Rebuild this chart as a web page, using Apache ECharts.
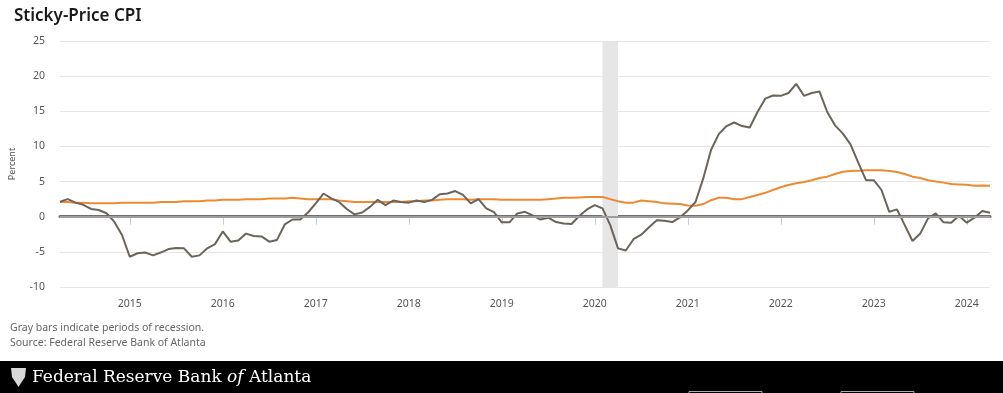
<!DOCTYPE html>
<html><head><meta charset="utf-8">
<script src="https://cdn.jsdelivr.net/npm/echarts@6/dist/echarts.min.js"></script>
<style>html,body{margin:0;padding:0;background:#fff;overflow:hidden}#c{width:1003px;height:393px}</style>
</head><body><div id="c"></div>
<script>
const months = [
 '2014-04','2014-05','2014-06','2014-07','2014-08','2014-09','2014-10','2014-11','2014-12',
 '2015-01','2015-02','2015-03','2015-04','2015-05','2015-06','2015-07','2015-08','2015-09','2015-10','2015-11','2015-12',
 '2016-01','2016-02','2016-03','2016-04','2016-05','2016-06','2016-07','2016-08','2016-09','2016-10','2016-11','2016-12',
 '2017-01','2017-02','2017-03','2017-04','2017-05','2017-06','2017-07','2017-08','2017-09','2017-10','2017-11','2017-12',
 '2018-01','2018-02','2018-03','2018-04','2018-05','2018-06','2018-07','2018-08','2018-09','2018-10','2018-11','2018-12',
 '2019-01','2019-02','2019-03','2019-04','2019-05','2019-06','2019-07','2019-08','2019-09','2019-10','2019-11','2019-12',
 '2020-01','2020-02','2020-03','2020-04','2020-05','2020-06','2020-07','2020-08','2020-09','2020-10','2020-11','2020-12',
 '2021-01','2021-02','2021-03','2021-04','2021-05','2021-06','2021-07','2021-08','2021-09','2021-10','2021-11','2021-12',
 '2022-01','2022-02','2022-03','2022-04','2022-05','2022-06','2022-07','2022-08','2022-09','2022-10','2022-11','2022-12',
 '2023-01','2023-02','2023-03','2023-04','2023-05','2023-06','2023-07','2023-08','2023-09','2023-10','2023-11','2023-12',
 '2024-01','2024-02','2024-03','2024-04'
];
// Sticky-price CPI (orange)
const sticky = [
 2.1,2.1,2.0,2.0,1.9,1.9,1.9,1.9,2.0,
 2.0,2.0,2.0,2.0,2.1,2.1,2.1,2.2,2.2,2.2,2.3,2.3,
 2.4,2.4,2.4,2.5,2.5,2.5,2.6,2.6,2.6,2.7,2.6,2.5,
 2.5,2.5,2.5,2.3,2.2,2.1,2.1,2.1,2.1,2.1,2.1,2.1,
 2.2,2.2,2.3,2.3,2.4,2.5,2.5,2.5,2.4,2.5,2.5,2.5,
 2.4,2.4,2.4,2.4,2.4,2.4,2.5,2.6,2.7,2.7,2.75,2.8,
 2.8,2.8,2.5,2.2,2.0,2.0,2.3,2.2,2.1,1.9,1.85,1.8,
 1.6,1.56,1.8,2.35,2.7,2.7,2.5,2.5,2.8,3.1,3.4,3.8,
 4.2,4.5,4.75,4.95,5.2,5.5,5.7,6.07,6.4,6.5,6.55,6.6,
 6.6,6.6,6.5,6.35,6.07,5.7,5.5,5.2,5.0,4.85,4.65,4.6,
 4.55,4.4,4.45,4.4
];
// Flexible-price CPI (gray)
const flexible = [
 2.13,2.5,2.0,1.7,1.1,0.95,0.5,-0.7,-2.6,
 -5.7,-5.2,-5.1,-5.5,-5.1,-4.6,-4.45,-4.5,-5.7,-5.5,-4.5,-3.9,
 -2.1,-3.55,-3.4,-2.4,-2.75,-2.8,-3.55,-3.3,-1.1,-0.4,-0.4,0.6,
 1.9,3.3,2.6,2.1,1.1,0.33,0.6,1.4,2.4,1.65,2.3,2.1,
 2.0,2.3,2.1,2.4,3.2,3.3,3.65,3.1,1.9,2.5,1.2,0.66,
 -0.8,-0.8,0.47,0.7,0.2,-0.4,-0.14,-0.76,-0.95,-1.04,0.1,1.04,
 1.66,1.18,-1.2,-4.5,-4.8,-3.2,-2.56,-1.5,-0.5,-0.57,-0.76,-0.1,
 0.9,2.1,5.45,9.5,11.75,12.9,13.4,12.9,12.7,14.9,16.8,17.25,
 17.2,17.6,18.9,17.2,17.6,17.8,14.9,13.0,11.85,10.3,7.7,5.2,
 5.2,3.8,0.7,1.04,-1.2,-3.46,-2.4,-0.24,0.47,-0.8,-0.85,0.14,
 -0.85,-0.14,0.8,0.57
];
const recessions = [['2020-02','2020-04']];
const yMin = -10, yMax = 25, yStep = 5;

const chart = echarts.init(document.getElementById('c'), null, {renderer: 'canvas'});
const isJan = (i, v) => String(v).slice(5) === '01';
const sans = 'Noto Sans';
chart.setOption({
  animation: false,
  backgroundColor: '#fff',
  title: {
    text: 'Sticky-Price CPI', left: 9, top: 3,
    textStyle: {fontFamily: sans, fontSize: 17, fontWeight: 600, color: '#1a1a1a'}
  },
  grid: {left: 56, right: 13, top: 41, bottom: 106},
  xAxis: {
    type: 'category', data: months, boundaryGap: false,
    axisLine: {lineStyle: {color: '#6e6e6e', width: 3}},
    axisTick: {interval: isJan, length: 8, lineStyle: {color: '#c3cedb', width: 1}},
    axisLabel: {interval: isJan, formatter: v => v.slice(0, 4), margin: 12,
      fontFamily: sans, fontSize: 10.5, color: '#555'},
    splitLine: {show: false}
  },
  yAxis: {
    type: 'value', min: yMin, max: yMax, interval: yStep,
    name: 'Percent', nameLocation: 'middle', nameRotate: 90, nameGap: 43,
    nameTextStyle: {fontFamily: sans, fontSize: 9, color: '#555'},
    axisLine: {show: false}, axisTick: {show: false},
    axisLabel: {margin: 15, fontFamily: sans, fontSize: 10.5, color: '#555'},
    splitLine: {lineStyle: {color: '#e6e6e6', width: 1}}
  },
  series: [
    {
      name: 'Sticky-Price CPI', type: 'line', data: sticky, symbol: 'none',
      lineStyle: {color: '#ef8a30', width: 2}, itemStyle: {color: '#ef8a30'},
      markArea: {silent: true, itemStyle: {color: '#e6e6e6'},
        data: recessions.map(r => [{xAxis: r[0]}, {xAxis: r[1]}])},
      markLine: {silent: true, symbol: 'none', label: {show: false},
        lineStyle: {color: '#9e9e9e', width: 2, type: 'solid'}, data: [{yAxis: 0}]},
      z: 2
    },
    {
      name: 'Flexible-Price CPI', type: 'line', data: flexible, symbol: 'none',
      lineStyle: {color: '#6a645b', width: 2}, itemStyle: {color: '#6a645b'}, z: 3
    }
  ],
  graphic: [
    {type: 'text', left: 10, top: 323, style: {text: 'Gray bars indicate periods of recession.',
      font: '10.5px "Noto Sans"', fill: '#666'}},
    {type: 'text', left: 10, top: 338, style: {text: 'Source: Federal Reserve Bank of Atlanta',
      font: '10.5px "Noto Sans"', fill: '#666'}},
    {type: 'rect', left: 0, top: 361, shape: {width: 1003, height: 32}, style: {fill: '#000'}},
    {type: 'polygon', shape: {points: [[11,368],[26,368],[25,377],[21,383],[18.5,387],[16,383],[12,377]]},
      style: {fill: '#d8d8d8'}},
    {type: 'text', left: 32, top: 369, style: {
      text: '{a|Federal Reserve Bank }{b|of}{a| Atlanta}',
      rich: {
        a: {fontFamily: 'DejaVu Serif', fontSize: 17, fill: '#fff', color: '#fff'},
        b: {fontFamily: 'DejaVu Serif', fontSize: 17, fontStyle: 'italic', fill: '#fff', color: '#fff'}
      }, fill: '#fff'}},
    {type: 'rect', shape: {x: 689, y: 391.5, width: 73, height: 3}, style: {fill: '#000', stroke: '#aaa', lineWidth: 1}},
    {type: 'rect', shape: {x: 841, y: 391.5, width: 73, height: 3}, style: {fill: '#000', stroke: '#aaa', lineWidth: 1}}
  ]
});
</script></body></html>
